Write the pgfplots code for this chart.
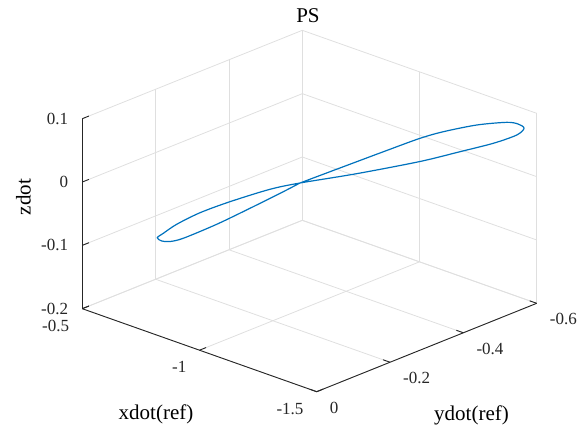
\documentclass[border=0pt]{standalone}
\usepackage{fontspec}
\setmainfont{Liberation Serif}
\usepackage{pgfplots}
\pgfplotsset{compat=1.18}
\definecolor{mblue}{rgb}{0,0.447,0.741}
\definecolor{gridc}{RGB}{223,223,223}
\definecolor{axc}{RGB}{38,38,38}
\begin{document}
\begin{tikzpicture}
\begin{axis}[
 x={(-234.4pt,83pt)}, y={(-366.7pt,-147.3pt)}, z={(0pt,633.3pt)},
 xmin=-1.5,xmax=-0.5,ymin=-0.6,ymax=0,zmin=-0.2,zmax=0.1,
 xtick={-1.5,-1,-0.5}, xticklabels={-1.5,-1,-0.5},
 ytick={-0.6,-0.4,-0.2,0}, yticklabels={-0.6,-0.4,-0.2,0},
 ztick={-0.2,-0.1,0,0.1}, zticklabels={-0.2,-0.1,0,0.1},
 grid=major, grid style={gridc, line width=0.8pt},
 axis line style={draw=none},
 major tick length=0pt,
 ticklabel style={font=\fontsize{17}{17}\selectfont, text=axc, inner sep=0pt},
 xticklabel style={anchor=north east, xshift=-13pt, yshift=-11pt},
 yticklabel style={anchor=north west, xshift=13pt, yshift=-10pt},
 zticklabel style={anchor=east, xshift=-14pt, yshift=0pt},
 clip=false,
]
\addplot3[mblue, line width=1.2pt, smooth, tension=0.5] coordinates {
(-0.9147,-0.3286,-0.0236)
(-0.9876,-0.3638,-0.0044)
(-1.0525,-0.3952,0.0126)
(-1.1286,-0.4319,0.0325)
(-1.2063,-0.4695,0.0524)
(-1.2630,-0.4968,0.0639)
(-1.3441,-0.5360,0.0760)
(-1.4170,-0.5712,0.0816)
(-1.4445,-0.5845,0.0795)
(-1.4591,-0.5916,0.0730)
(-1.4413,-0.5830,0.0620)
(-1.3845,-0.5555,0.0479)
(-1.3035,-0.5164,0.0331)
(-1.2063,-0.4695,0.0158)
(-1.0525,-0.3952,-0.0063)
(-0.9147,-0.3286,-0.0236)
(-0.8418,-0.2934,-0.0349)
(-0.7446,-0.2465,-0.0563)
(-0.6717,-0.2112,-0.0751)
(-0.6151,-0.1839,-0.0944)
(-0.5825,-0.1682,-0.1093)
(-0.5679,-0.1611,-0.1165)
(-0.5786,-0.1663,-0.1215)
(-0.5988,-0.1760,-0.1219)
(-0.6311,-0.1916,-0.1162)
(-0.7123,-0.2309,-0.0926)
(-0.7932,-0.2699,-0.0658)
(-0.8741,-0.3090,-0.0381)
(-0.9147,-0.3286,-0.0236)
};
\draw[axc, line width=0.9pt] (axis cs:-0.5,0,-0.2) -- (axis cs:-1.5,0,-0.2) -- (axis cs:-1.5,-0.6,-0.2);
\draw[axc, line width=0.9pt] (axis cs:-0.5,0,-0.2) -- (axis cs:-0.5,0,0.1);
\pgfplotsinvokeforeach{-1.5,-1,-0.5}{
  \draw[axc, line width=0.9pt] (axis cs:#1,0,-0.2) -- (axis cs:#1,-0.018,-0.2);
}
\pgfplotsinvokeforeach{-0.6,-0.4,-0.2,0}{
  \draw[axc, line width=0.9pt] (axis cs:-1.5,#1,-0.2) -- (axis cs:-1.47,#1,-0.2);
}
\pgfplotsinvokeforeach{-0.2,-0.1,0,0.1}{
  \draw[axc, line width=0.9pt] (axis cs:-0.5,0,#1) -- (axis cs:-0.5,-0.018,#1);
}
\coordinate (F) at (axis cs:-1.5,0,-0.2);
\end{axis}
\begin{scope}[every node/.style={font=\fontsize{21}{21}\selectfont, inner sep=0pt, anchor=center}]
\node at ([shift={(-160.7pt,-22.3pt)}]F) {xdot(ref)};
\node at ([shift={(154.8pt,-23.3pt)}]F) {ydot(ref)};
\node[rotate=90] at ([shift={(-293.2pt,194.7pt)}]F) {zdot};
\node at ([shift={(-8.7pt,375.7pt)}]F) {PS};
\end{scope}
\pgfresetboundingbox
\path[use as bounding box] ([shift={(-316.7pt,391.7pt)}]F) rectangle ([shift={(270.3pt,-38.3pt)}]F);
\end{tikzpicture}
\end{document}
